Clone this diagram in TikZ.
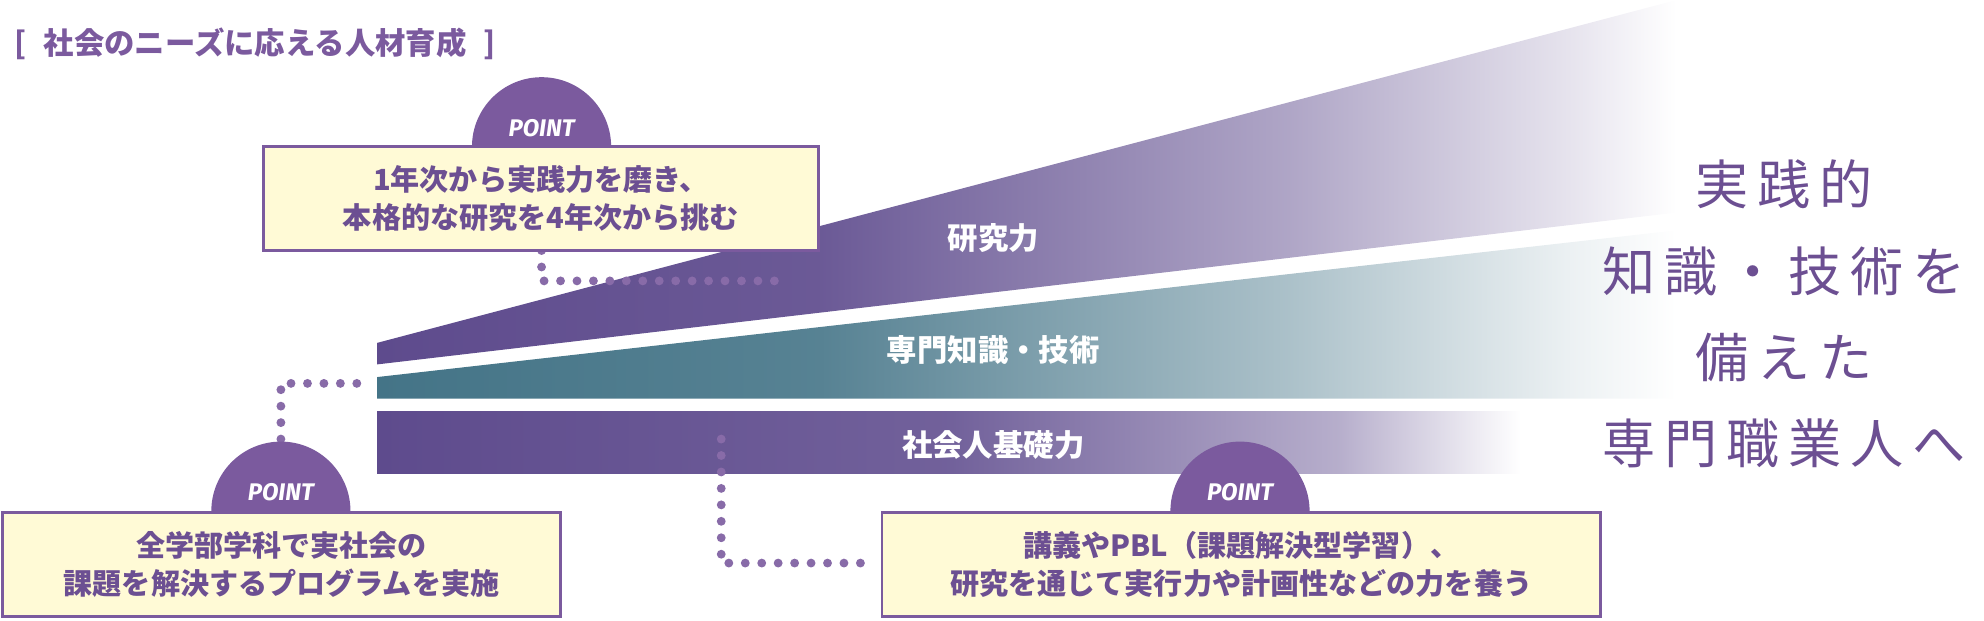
\documentclass[tikz,border=0pt]{standalone}
\usepackage{fontspec}
\setmainfont{Noto Sans CJK JP}
\newfontfamily\pointfont{Fira Sans}
\usetikzlibrary{positioning}
\definecolor{vio}{HTML}{5E4B8D}
\definecolor{lvio}{HTML}{7B5A9E}
\definecolor{teal}{HTML}{447487}
\definecolor{cream}{HTML}{FFFAD6}
\definecolor{txt}{HTML}{6C4F92}
\pgfdeclarehorizontalshading{vioshade}{100bp}{color(0bp)=(vio); color(25bp)=(vio); color(42bp)=(vio!92!white);
  color(60bp)=(vio!50!white); color(71bp)=(vio!15!white); color(75bp)=(white); color(100bp)=(white)}
\pgfdeclarehorizontalshading{tealshade}{100bp}{color(0bp)=(teal); color(25bp)=(teal); color(42bp)=(teal!90!white);
  color(60bp)=(teal!45!white); color(71bp)=(teal!10!white); color(75bp)=(white); color(100bp)=(white)}
\pgfdeclarehorizontalshading{barshade}{100bp}{color(0bp)=(vio); color(25bp)=(vio); color(47bp)=(vio!88!white);
  color(62bp)=(vio!45!white); color(69bp)=(white); color(100bp)=(white)}
\begin{document}
\begin{tikzpicture}[x=1pt,y=-1pt]
        \tikzset{
          pointbox/.style={draw=lvio,line width=2.2pt,fill=cream,text=txt,font=\fontsize{23}{30}\selectfont\bfseries,
            align=center,minimum height=82pt,inner xsep=14pt},
          pointtab/.style={text=white,font=\pointfont\bfseries\itshape\fontsize{19}{19}\selectfont},
          dots/.style={draw=lvio!90,line width=7pt,line cap=round,dash pattern=on 0pt off 13pt},
          barlabel/.style={text=white,font=\fontsize{24}{24}\selectfont\bfseries},
        }
        \useasboundingbox (0,0) rectangle (1568,490);
        \node[anchor=west,text=lvio,font=\fontsize{24}{24}\selectfont\bfseries] (title) at (8,35) {[\,\, 社会のニーズに応える人材育成 \,\,]};
        % bands
        \shade[shading=vioshade] (298,271) -- (1325,0) -- (1325,168) -- (298,288) -- cycle;
        \shade[shading=tealshade] (298,298) -- (1325,182) -- (1325,315) -- (298,315) -- cycle;
        \shade[shading=barshade] (298,325) rectangle (1325,374);
        \node[barlabel] (research) at (785,188) {研究力};
        \node[barlabel] (skill) at (785,277) {専門知識・技術};
        \node[barlabel] (basic) at (785,352) {社会人基礎力};
        % right text
        \node[text=txt,align=center,font=\fontsize{42}{68}\selectfont] (goal) at (1410,248)
          {実\,践\,的\\知\,識\,・\,技\,術\,を\\備\,え\,た\\専\,門\,職\,業\,人\,へ};
        % point 1
        \coordinate (c1) at (428,198);
        \coordinate (e1) at (615,222);
        \draw[dots] (c1) |- (e1);
        \fill[lvio] (373,116) arc (180:360:55);
        \node[pointtab] (tab1) at (428,101) {POINT};
        \node[pointbox,minimum width=439pt] (box1) at (427.5,157) {1年次から実践力を磨き、\\本格的な研究を4年次から挑む};
        % point 2
        \coordinate (c2) at (222,360);
        \coordinate (e2) at (284,303);
        \draw[dots] (c2) |- (e2);
        \fill[lvio] (167,404) arc (180:360:55);
        \node[pointtab] (tab2) at (222,389) {POINT};
        \node[pointbox,minimum width=441pt] (box2) at (222.5,446) {全学部学科で実社会の\\課題を解決するプログラムを実施};
        % point 3
        \coordinate (c3) at (570,347);
        \coordinate (e3) at (688,445);
        \draw[dots] (c3) |- (e3);
        \fill[lvio] (925,404) arc (180:360:55);
        \node[pointtab] (tab3) at (980,389) {POINT};
        \node[pointbox,minimum width=568pt] (box3) at (981,446) {講義やPBL（課題解決型学習）、\\研究を通じて実行力や計画性などの力を養う};
\end{tikzpicture}
\end{document}
